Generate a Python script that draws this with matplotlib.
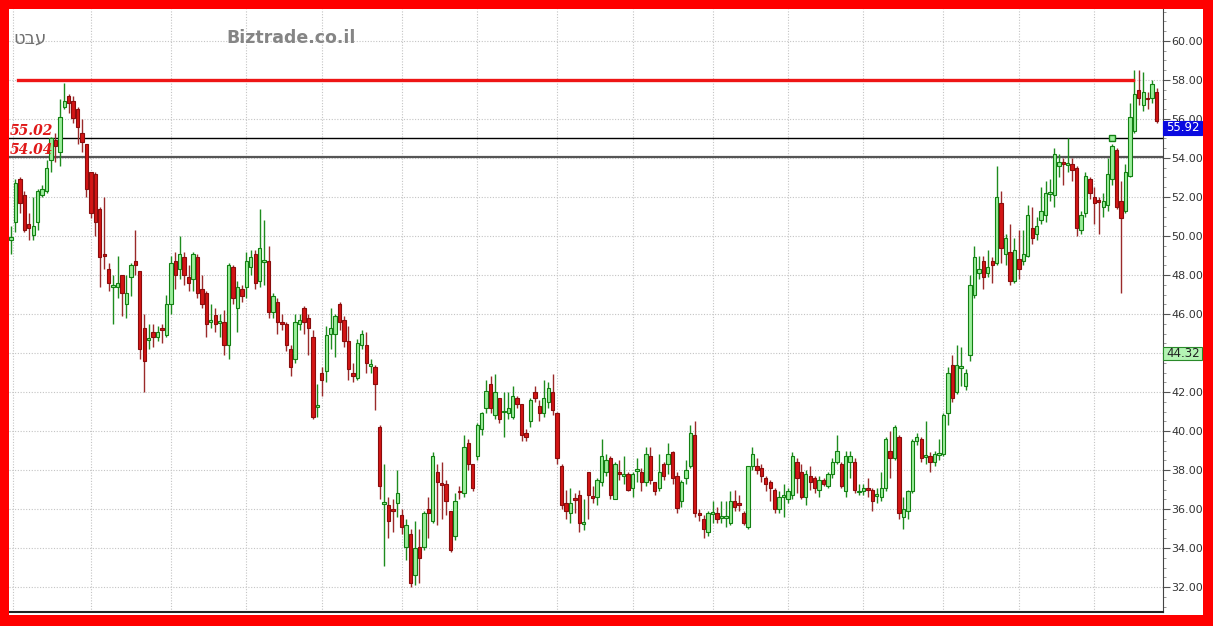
import numpy as np
import matplotlib.pyplot as plt
from matplotlib.patches import Rectangle
from matplotlib.ticker import MultipleLocator, FuncFormatter

# daily OHLC (oldest first)
opens = [
    49.8, 50.7, 52.9, 52.1, 50.6, 50.05, 50.7, 52.1, 52.3, 53.9,
    54.9, 54.3, 56.6, 57.2, 56.9, 56.5, 55.3, 54.7, 53.3, 53.2,
    51.4, 49.1, 48.3, 47.4, 47.4, 48.0, 46.5, 47.9, 48.7, 48.2,
    45.3, 44.65, 45.1, 44.8, 45.3, 44.9, 46.5, 48.7, 48.3, 48.9,
    47.9, 47.8, 48.9, 47.3, 47.1, 45.6, 45.95, 45.55, 45.6, 44.4,
    48.4, 46.3, 47.3, 47.4, 48.4, 49.1, 47.7, 48.65, 48.7, 46.1,
    46.6, 45.6, 45.5, 44.2, 43.7, 45.5, 46.3, 45.8, 44.8, 41.25,
    43.0, 43.1, 45.0, 45.0, 46.5, 45.7, 44.6, 43.0, 42.7, 44.4,
    44.4, 43.35, 43.3, 40.2, 36.25, 36.2, 36.0, 36.3, 35.7, 34.05,
    34.7, 32.6, 34.05, 34.05, 36.0, 35.4, 37.9, 37.35, 37.3, 35.9,
    34.6, 36.95, 36.8, 39.4, 38.3, 38.7, 40.1, 41.2, 42.4, 40.8,
    41.7, 40.95, 40.9, 40.7, 41.7, 41.4, 39.9, 40.5, 42.0, 41.3,
    40.9, 41.5, 42.0, 40.9, 38.2, 36.3, 35.8, 36.55, 36.7, 35.25,
    37.9, 36.65, 36.6, 37.4, 37.9, 38.6, 36.5, 37.9, 37.7, 37.8,
    37.1, 37.95, 37.9, 37.4, 38.7, 37.4, 37.1, 38.3, 38.3, 38.9,
    37.7, 36.4, 37.6, 38.2, 39.8, 35.8, 35.5, 34.8, 35.75, 35.8,
    35.55, 35.55, 35.3, 36.4, 36.3, 35.8, 35.1, 38.2, 38.2, 38.1,
    37.6, 37.4, 37.0, 36.0, 36.6, 36.5, 36.7, 38.4, 37.9, 36.6,
    37.7, 37.6, 37.0, 37.5, 37.2, 37.8, 38.4, 38.3, 36.9, 38.4,
    38.4, 36.85, 36.9, 37.1, 37.0, 36.65, 36.6, 37.1, 39.0, 38.6,
    39.7, 35.6, 35.9, 36.9, 39.5, 39.6, 38.65, 38.7, 38.4, 38.75,
    38.8, 40.9, 43.4, 42.0, 43.25, 42.3, 43.9, 47.0, 48.1, 48.7,
    48.1, 48.7, 48.6, 51.7, 49.1, 49.2, 47.7, 48.8, 48.7, 49.0,
    50.4, 50.1, 50.8, 51.1, 52.15, 52.1, 53.6, 53.8, 53.65, 53.7,
    53.5, 50.3, 51.2, 52.9, 52.0, 51.85, 51.5, 51.6, 52.9, 54.4,
    51.8, 51.3, 53.1, 55.4, 57.5, 56.7, 57.1, 57.1, 57.4,
]
highs = [
    50.5, 52.9, 53.0, 52.3, 51.2, 52.0, 52.4, 52.6, 53.9, 55.1,
    55.3, 57.0, 57.85, 57.3, 57.2, 56.6, 56.0, 54.7, 53.3, 53.3,
    51.5, 52.0, 48.6, 48.0, 49.0, 48.0, 48.0, 48.6, 50.3, 48.2,
    46.0, 45.5, 45.5, 45.4, 45.5, 47.0, 49.0, 49.2, 50.0, 49.2,
    48.5, 49.2, 49.1, 48.0, 47.2, 46.5, 46.3, 46.0, 46.2, 48.6,
    48.5, 47.7, 47.5, 49.2, 49.3, 49.3, 51.4, 50.8, 49.5, 47.1,
    46.8, 46.0, 45.6, 44.4, 46.0, 46.0, 46.4, 46.0, 45.2, 42.4,
    43.3, 45.4, 46.3, 46.0, 46.6, 45.9, 45.4, 43.5, 44.7, 45.2,
    45.1, 43.7, 43.4, 40.3, 38.3, 36.6, 36.5, 38.0, 36.0, 35.5,
    35.0, 35.4, 35.0, 35.9, 36.6, 38.9, 38.3, 38.4, 37.5, 35.9,
    36.8, 37.2, 39.8, 39.6, 38.3, 40.4, 41.0, 42.6, 42.8, 42.9,
    41.7, 42.0, 42.0, 42.3, 41.8, 41.4, 40.1, 41.7, 42.3, 41.6,
    42.6, 42.5, 42.9, 41.0, 38.3, 37.0, 37.1, 36.8, 37.0, 36.5,
    37.9, 37.2, 37.6, 39.6, 38.8, 38.7, 38.4, 38.5, 38.7, 37.9,
    37.9, 38.6, 38.1, 39.2, 39.2, 37.4, 38.8, 38.4, 39.4, 39.0,
    37.9, 37.5, 38.5, 40.3, 40.5, 36.0, 35.7, 35.9, 36.4, 36.1,
    36.4, 36.4, 36.9, 37.0, 36.7, 35.9, 38.2, 39.2, 38.6, 38.3,
    37.7, 37.5, 37.1, 36.9, 37.3, 37.1, 38.9, 38.6, 38.3, 38.0,
    38.2, 37.7, 37.7, 37.6, 37.9, 38.6, 39.8, 38.4, 39.0, 39.0,
    38.6, 37.3, 37.3, 37.6, 37.1, 37.1, 37.9, 39.7, 40.0, 40.3,
    39.8, 36.6, 37.0, 39.6, 39.9, 39.7, 40.5, 38.9, 39.0, 39.6,
    40.9, 43.3, 43.9, 44.4, 44.3, 43.2, 48.0, 49.5, 49.0, 49.0,
    49.3, 48.9, 53.6, 52.3, 50.1, 50.6, 49.9, 50.3, 50.3, 51.6,
    51.5, 51.0, 52.5, 52.8, 52.9, 54.5, 54.2, 54.0, 55.0, 54.0,
    53.6, 51.3, 53.3, 53.0, 52.5, 52.0, 52.2, 54.0, 54.7, 54.5,
    52.8, 53.7, 56.8, 58.5, 58.5, 58.4, 57.4, 58.0, 57.6,
]
lows = [
    49.1, 50.2, 51.2, 50.2, 49.8, 49.8, 50.3, 52.0, 52.2, 53.3,
    53.8, 53.6, 56.5, 56.3, 55.8, 54.7, 54.3, 52.0, 50.9, 50.0,
    47.4, 48.3, 47.2, 45.5, 46.8, 45.9, 45.8, 46.9, 48.0, 43.7,
    42.0, 44.2, 44.3, 44.6, 44.5, 44.8, 46.0, 47.3, 47.8, 47.5,
    47.2, 47.2, 46.8, 46.3, 44.8, 45.3, 45.1, 44.8, 43.9, 43.7,
    46.5, 45.1, 46.6, 46.8, 48.0, 47.3, 47.4, 47.5, 45.8, 45.8,
    45.0, 45.2, 44.1, 42.8, 43.5, 45.2, 45.0, 43.9, 40.6, 40.7,
    41.8, 42.5, 44.2, 43.8, 45.2, 44.3, 42.6, 42.5, 42.6, 44.2,
    43.0, 43.0, 41.1, 36.5, 33.1, 34.5, 34.8, 35.6, 34.7, 33.4,
    32.0, 32.1, 32.2, 33.9, 34.5, 35.3, 35.2, 35.5, 35.7, 33.8,
    34.4, 36.5, 36.6, 38.0, 36.9, 38.5, 39.8, 40.9, 40.9, 40.6,
    40.4, 39.7, 40.6, 40.6, 41.2, 39.5, 39.5, 40.2, 41.5, 40.5,
    40.7, 41.2, 40.8, 38.3, 36.0, 35.5, 35.3, 35.8, 34.8, 34.9,
    35.5, 36.3, 36.2, 37.2, 37.7, 36.5, 36.5, 37.5, 37.3, 36.9,
    36.6, 37.4, 36.9, 37.2, 37.3, 36.7, 36.9, 37.5, 37.8, 37.3,
    35.8, 36.1, 37.3, 38.1, 35.6, 35.4, 34.5, 34.6, 35.3, 35.3,
    35.3, 35.1, 35.2, 35.9, 35.9, 35.2, 35.0, 38.0, 37.8, 37.4,
    36.9, 36.4, 35.8, 35.8, 35.6, 36.3, 36.5, 36.8, 36.5, 36.2,
    37.0, 36.8, 36.6, 37.2, 37.1, 37.6, 38.3, 37.1, 36.6, 37.6,
    36.8, 36.7, 36.7, 36.6, 35.9, 36.3, 36.4, 36.9, 37.6, 38.5,
    35.5, 35.0, 35.5, 36.8, 39.3, 38.4, 38.3, 37.9, 38.2, 38.5,
    38.7, 40.3, 41.5, 41.9, 42.3, 42.1, 43.6, 46.8, 47.8, 47.3,
    47.9, 47.6, 48.5, 48.6, 48.5, 47.5, 47.6, 47.8, 48.5, 48.9,
    49.6, 49.8, 50.6, 50.7, 51.8, 51.5, 53.0, 52.6, 53.3, 52.8,
    50.0, 50.1, 51.0, 51.9, 50.6, 50.1, 51.0, 51.3, 52.6, 51.4,
    47.1, 51.2, 53.0, 55.3, 56.7, 56.4, 56.5, 56.8, 55.8,
]
closes = [
    49.95, 52.7, 51.7, 50.3, 50.4, 50.5, 52.3, 52.4, 53.5, 55.0,
    54.6, 56.1, 56.9, 56.8, 56.05, 55.6, 54.8, 52.4, 51.2, 50.7,
    48.9, 49.0, 47.6, 47.5, 47.6, 47.1, 47.1, 48.5, 48.5, 44.2,
    43.6, 44.75, 44.8, 45.1, 45.2, 46.5, 48.6, 48.0, 49.1, 48.0,
    47.6, 49.1, 47.1, 46.5, 45.5, 45.7, 45.5, 45.65, 44.4, 48.5,
    46.8, 47.4, 46.9, 48.7, 48.9, 47.6, 49.4, 48.75, 46.1, 46.9,
    45.6, 45.5, 44.4, 43.3, 45.6, 45.7, 45.6, 45.3, 40.7, 41.35,
    42.6, 44.9, 45.3, 45.9, 45.6, 44.6, 43.2, 42.8, 44.5, 45.0,
    43.5, 43.45, 42.4, 37.2, 36.35, 35.4, 35.9, 36.8, 35.1, 35.2,
    32.2, 34.0, 33.5, 35.8, 35.8, 38.7, 37.4, 37.25, 36.4, 33.9,
    36.4, 36.85, 39.2, 38.3, 37.1, 40.3, 40.9, 42.05, 41.2, 42.0,
    40.6, 41.05, 41.2, 41.8, 41.4, 39.8, 39.7, 41.6, 41.7, 40.9,
    41.7, 42.2, 41.1, 38.6, 36.2, 35.9, 36.3, 36.45, 35.3, 35.35,
    36.7, 36.55, 37.5, 38.7, 38.5, 36.7, 38.3, 37.8, 37.8, 37.0,
    37.8, 38.05, 37.4, 38.8, 37.5, 36.9, 37.9, 37.7, 38.8, 37.6,
    36.05, 37.4, 38.0, 39.9, 35.8, 35.7, 35.0, 35.8, 35.85, 35.5,
    35.65, 35.65, 36.4, 36.1, 36.2, 35.3, 38.2, 38.8, 38.0, 37.7,
    37.3, 37.1, 36.0, 36.6, 36.7, 36.9, 38.7, 37.6, 36.6, 37.8,
    37.4, 37.1, 37.5, 37.3, 37.8, 38.4, 39.0, 37.2, 38.7, 38.7,
    37.0, 36.95, 37.1, 37.0, 36.4, 36.75, 37.1, 39.6, 38.6, 40.2,
    35.8, 36.0, 36.9, 39.5, 39.7, 38.6, 38.75, 38.4, 38.8, 38.85,
    40.8, 43.0, 41.7, 43.4, 43.35, 43.0, 47.5, 48.9, 48.3, 47.9,
    48.4, 48.5, 52.0, 49.4, 49.9, 47.7, 49.3, 48.3, 49.1, 51.1,
    49.9, 50.5, 51.3, 52.2, 52.25, 54.2, 53.8, 53.7, 53.75, 53.4,
    50.4, 51.1, 53.1, 52.2, 51.7, 51.75, 51.8, 53.2, 54.6, 51.5,
    50.9, 53.3, 56.1, 57.3, 57.1, 57.4, 57.0, 57.8, 55.9,
]

# month separators (candle index) and marked levels
month_marks = [0.5, 18, 36, 53, 70, 88, 105, 123, 140, 158, 175, 192, 210, 227, 244]
resistance = 58.0
level_hi = 55.02
level_lo = 54.04
last_price = 55.92
ma_value = 44.32
signal_idx = 248

W, H = 1213, 626
fig = plt.figure(figsize=(W / 100, H / 100), dpi=100, facecolor='white')
# red frame round the picture
red = '#ff0000'
for r in [(0, 0, 9, H), (1203, 0, W - 1203, H), (0, 0, W, 11), (0, H - 9, W, 9)]:
    fig.patches.append(Rectangle((r[0] / W, r[1] / H), r[2] / W, r[3] / H, transform=fig.transFigure,
                                 facecolor=red, edgecolor='none', zorder=10))
ax = fig.add_axes([9 / W, 14 / H, 1154 / W, 603 / H])

o = np.array(opens)
h = np.array(highs)
l = np.array(lows)
c = np.array(closes)
x = np.arange(len(o))
up = c >= o
bot = np.minimum(o, c)
hgt = np.maximum(np.abs(c - o), 0.1)

ax.vlines(x[up], l[up], h[up], color='#1e8c1e', lw=1, zorder=3)
ax.vlines(x[~up], l[~up], h[~up], color='#9a2a2a', lw=1, zorder=3)
ax.bar(x[up], hgt[up], bottom=bot[up], width=0.76, color='#9cef9c', edgecolor='#128012', lw=0.8, zorder=4)
ax.bar(x[~up], hgt[~up], bottom=bot[~up], width=0.76, color='#d41515', edgecolor='#8a0c0c', lw=0.8, zorder=4)

# support / resistance lines
ax.plot([1.6, 252.7], [resistance, resistance], color='#ee1515', lw=2.4, zorder=5)
ax.axhline(level_hi, color='black', lw=1, zorder=2)
ax.axhline(level_lo, color='#555555', lw=1.6, zorder=2)
ax.plot(signal_idx, level_hi, 's', ms=5, mfc='#9cef9c', mec='#128012', mew=1, zorder=6)
ax.text(-0.2, level_hi + 0.02, '%.2f' % level_hi, color='#e01818', fontsize=10, fontstyle='italic',
        fontweight='bold', family='DejaVu Serif', va='bottom', ha='left', zorder=6)
ax.text(-0.2, level_lo + 0.02, '%.2f' % level_lo, color='#e01818', fontsize=10, fontstyle='italic',
        fontweight='bold', family='DejaVu Serif', va='bottom', ha='left', zorder=6)

ax.set_xlim(-0.45, 259.46)
ax.set_ylim(30.72, 61.64)


def price_fmt(v, pos):
    # the 44.00 label sits under the 44.32 box in the original
    if abs(v - 44) < 1e-6:
        return ''
    return '%.2f' % v


ax.yaxis.tick_right()
ax.yaxis.set_major_locator(MultipleLocator(2))
ax.yaxis.set_minor_locator(MultipleLocator(0.5))
ax.yaxis.set_major_formatter(FuncFormatter(price_fmt))
ax.tick_params(axis='y', which='major', length=5, width=0.8, color='#555555', labelsize=8,
               labelcolor='#333333', pad=1)
ax.tick_params(axis='y', which='minor', length=2, width=0.6, color='#888888')
ax.set_xticks(month_marks)
ax.tick_params(axis='x', length=0, labelbottom=False)
ax.grid(True, color='#c4c4c4', lw=0.8, linestyle=(0, (1, 1.5)), zorder=0)

for s in ['left', 'top']:
    ax.spines[s].set_visible(False)
ax.spines['right'].set_color('#444444')
ax.spines['bottom'].set_color('#222222')
ax.spines['bottom'].set_linewidth(1.5)

# price boxes on the axis (they hang below their level)
ytr = ax.get_yaxis_transform()
box_w = 39 / 1154
for val, fc, ec, tc, bh in [(last_price, '#0a0ae0', '#0a0ae0', 'white', 0.72),
                            (ma_value, '#b4f4b4', '#2a8a2a', '#222222', 0.67)]:
    ax.add_patch(Rectangle((1.0, val - bh), box_w, bh, transform=ytr, facecolor=fc, edgecolor=ec,
                           lw=0.8, clip_on=False, zorder=20))
    ax.text(1.0 + 3 / 1154, val - bh / 2, '%.2f' % val, transform=ytr, fontsize=8.5, color=tc,
            va='center', ha='left', clip_on=False, zorder=21)

fig.text(13 / W, 1 - 38 / H, 'טבע', fontsize=13, color='#707070', va='center', ha='left')
fig.text(226 / W, 1 - 38 / H, 'Biztrade.co.il', fontsize=12.5, fontweight='bold', color='#858585',
         va='center', ha='left')

fig.savefig('out.png', dpi=100)
